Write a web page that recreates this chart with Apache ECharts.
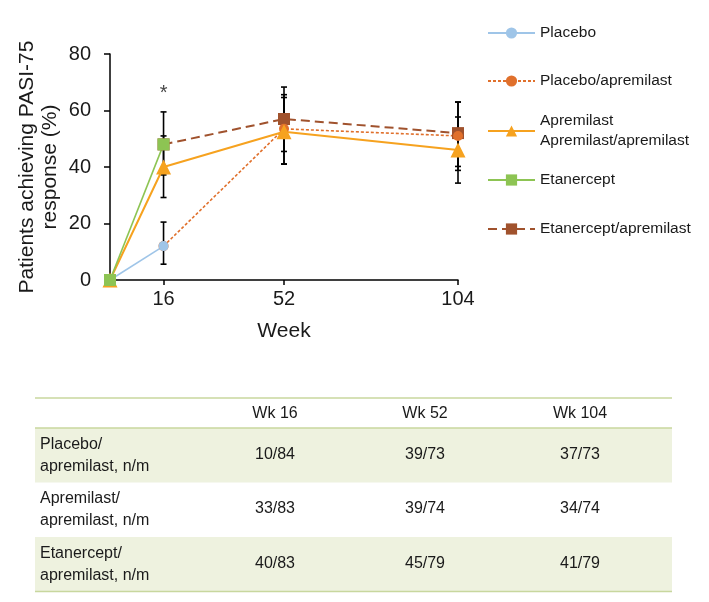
<!DOCTYPE html>
<html>
<head>
<meta charset="utf-8">
<script src="https://cdn.jsdelivr.net/npm/echarts@6/dist/echarts.min.js"></script>
<style>
html,body{margin:0;padding:0;background:#fff;}
#chart{width:709px;height:602px;}
</style>
</head>
<body>
<div id="chart"></div>
<script>
// ---- data ----
var weekTicks = [16, 52, 104];
var yTicks = [0, 20, 40, 60, 80];
var placebo = [[0, 0], [16, 12]];
var placeboApremilast = [[16, 12], [52, 53.5], [104, 51]];
var apremilast = [[0, 0], [16, 40], [52, 52.5], [104, 46]];
var etanercept = [[0, 0], [16, 48]];
var etanerceptApremilast = [[16, 48], [52, 57], [104, 52]];
// error bars: [week, low, high]
var errorBars = [
  [16, 5.6, 20.5], [16, 29.2, 51], [16, 37.2, 59.5],
  [52, 41, 65.6], [52, 41.1, 64.6], [52, 45.5, 68.3],
  [104, 38.8, 63], [104, 34.3, 57.7], [104, 40.2, 63]
];
var asteriskPoints = [[16, 66]];
var seriesNames = ['Placebo', 'Placebo/apremilast', 'Apremilast\nApremilast/apremilast', 'Etanercept', 'Etanercept/apremilast'];
var tableCols = ['Wk 16', 'Wk 52', 'Wk 104'];
var tableRows = ['Placebo/\napremilast, n/m', 'Apremilast/\napremilast, n/m', 'Etanercept/\napremilast, n/m'];
var tableValues = [
  ['10/84', '39/73', '37/73'],
  ['33/83', '39/74', '34/74'],
  ['40/83', '45/79', '41/79']
];

var FONT = "'Liberation Sans', Arial, Helvetica, sans-serif";
var TXT = '#1a1a1a';
var chart = echarts.init(document.getElementById('chart'), null, {renderer: 'canvas'});

// ---- table graphics ----
var tLeft = 35, tRight = 672, tTop = 398, headH = 30, rowH = 54.5;
var colX = [275, 425, 580];
var gfx = [];
tableRows.forEach(function (r, i) {
  var y0 = tTop + headH + i * rowH;
  if (i % 2 === 0) {
    gfx.push({type: 'rect', shape: {x: tLeft, y: y0, width: tRight - tLeft, height: rowH}, style: {fill: '#eef2df'}, silent: true});
  }
  gfx.push({type: 'text', x: 40, y: y0 + rowH / 2, style: {text: r, font: '16px ' + FONT, fill: TXT, verticalAlign: 'middle', align: 'left', lineHeight: 22}});
  tableValues[i].forEach(function (v, j) {
    gfx.push({type: 'text', x: colX[j], y: y0 + rowH / 2 - 1, style: {text: v, font: '16px ' + FONT, fill: TXT, verticalAlign: 'middle', align: 'center'}});
  });
});
tableCols.forEach(function (c, j) {
  gfx.push({type: 'text', x: colX[j], y: tTop + headH / 2 + 1, style: {text: c, font: '16px ' + FONT, fill: TXT, verticalAlign: 'middle', align: 'center'}});
});
[tTop, tTop + headH, tTop + headH + rowH * tableRows.length].forEach(function (y) {
  gfx.push({type: 'line', shape: {x1: tLeft, y1: y, x2: tRight, y2: y}, style: {stroke: '#c8d79e', lineWidth: 1.5}, silent: true});
});

function mkLegend(name, top) {
  return {
    data: [name], left: 487, top: top, orient: 'vertical', padding: 0,
    itemWidth: 47, itemHeight: 14, selectedMode: false,
    textStyle: {fontSize: 15.5, fontFamily: FONT, color: TXT, lineHeight: 20}
  };
}

var option = {
  animation: false,
  backgroundColor: '#fff',
  textStyle: {fontFamily: FONT},
  grid: {left: 110, top: 54, width: 348, height: 226, containLabel: false},
  legend: [
    mkLegend(seriesNames[0], 23),
    mkLegend(seriesNames[1], 71),
    mkLegend(seriesNames[2], 111),
    mkLegend(seriesNames[3], 170),
    mkLegend(seriesNames[4], 219)
  ],
  xAxis: {
    type: 'value', min: 0, max: 104,
    name: 'Week', nameLocation: 'middle', nameGap: 41,
    nameTextStyle: {fontSize: 21, color: TXT, fontFamily: FONT},
    axisLine: {show: true, lineStyle: {color: '#000', width: 1.5}},
    axisTick: {show: true, customValues: weekTicks, length: 5, lineStyle: {color: '#000', width: 1.5}},
    axisLabel: {customValues: weekTicks, fontSize: 20, color: TXT, margin: 9, fontFamily: FONT},
    splitLine: {show: false}
  },
  yAxis: {
    type: 'value', min: 0, max: 80, interval: 20,
    name: 'Patients achieving PASI-75\nresponse (%)', nameLocation: 'middle', nameGap: 48,
    nameTextStyle: {fontSize: 21, color: TXT, fontFamily: FONT, lineHeight: 23},
    axisLine: {show: true, lineStyle: {color: '#000', width: 1.5}},
    axisTick: {show: true, length: 6, lineStyle: {color: '#000', width: 1.5}},
    axisLabel: {fontSize: 20, color: TXT, margin: 19, fontFamily: FONT,
      formatter: function (v) { return yTicks.indexOf(v) >= 0 ? String(v) : ''; }},
    splitLine: {show: false}
  },
  graphic: gfx,
  series: [
    {
      type: 'custom', name: 'err', z: 1, silent: true,
      data: errorBars,
      encode: {x: 0, y: [1, 2]},
      renderItem: function (params, api) {
        var lo = api.coord([api.value(0), api.value(1)]);
        var hi = api.coord([api.value(0), api.value(2)]);
        var w = 3;
        var st = {stroke: '#000', lineWidth: 1.6};
        return {type: 'group', children: [
          {type: 'line', shape: {x1: lo[0], y1: lo[1], x2: hi[0], y2: hi[1]}, style: st},
          {type: 'line', shape: {x1: lo[0] - w, y1: lo[1], x2: lo[0] + w, y2: lo[1]}, style: st},
          {type: 'line', shape: {x1: hi[0] - w, y1: hi[1], x2: hi[0] + w, y2: hi[1]}, style: st}
        ]};
      }
    },
    {
      name: seriesNames[4], type: 'line', data: etanerceptApremilast, z: 2,
      symbol: 'rect', symbolSize: 12, color: '#a0522d',
      itemStyle: {color: '#a0522d'},
      lineStyle: {color: '#a0522d', width: 2, type: [9, 5]}
    },
    {
      name: seriesNames[1], type: 'line', data: placeboApremilast, z: 2,
      symbol: 'circle', symbolSize: 10, color: '#e0702c',
      itemStyle: {color: '#e0702c'},
      lineStyle: {color: '#e0702c', width: 1.6, type: [3, 2]}
    },
    {
      name: seriesNames[0], type: 'line', data: placebo, z: 2,
      symbol: 'circle', symbolSize: 10, color: '#9fc5e8',
      itemStyle: {color: '#9fc5e8'},
      lineStyle: {color: '#9fc5e8', width: 1.6}
    },
    {
      name: seriesNames[2], type: 'line', data: apremilast, z: 2,
      symbol: 'triangle', symbolSize: 15, color: '#f6a21f',
      itemStyle: {color: '#f6a21f'},
      lineStyle: {color: '#f6a21f', width: 2}
    },
    {
      name: seriesNames[3], type: 'line', data: etanercept, z: 2,
      symbol: 'rect', symbolSize: 12, color: '#8dc453',
      itemStyle: {color: '#8dc453'},
      lineStyle: {color: '#8dc453', width: 1.6}
    },
    {
      name: 'asterisk', type: 'scatter', data: asteriskPoints, symbolSize: 1, z: 3,
      itemStyle: {color: 'rgba(0,0,0,0)'},
      label: {show: true, position: 'inside', formatter: '*', fontSize: 20, color: '#111', fontFamily: FONT}
    }
  ]
};
chart.setOption(option);
</script>
</body>
</html>
